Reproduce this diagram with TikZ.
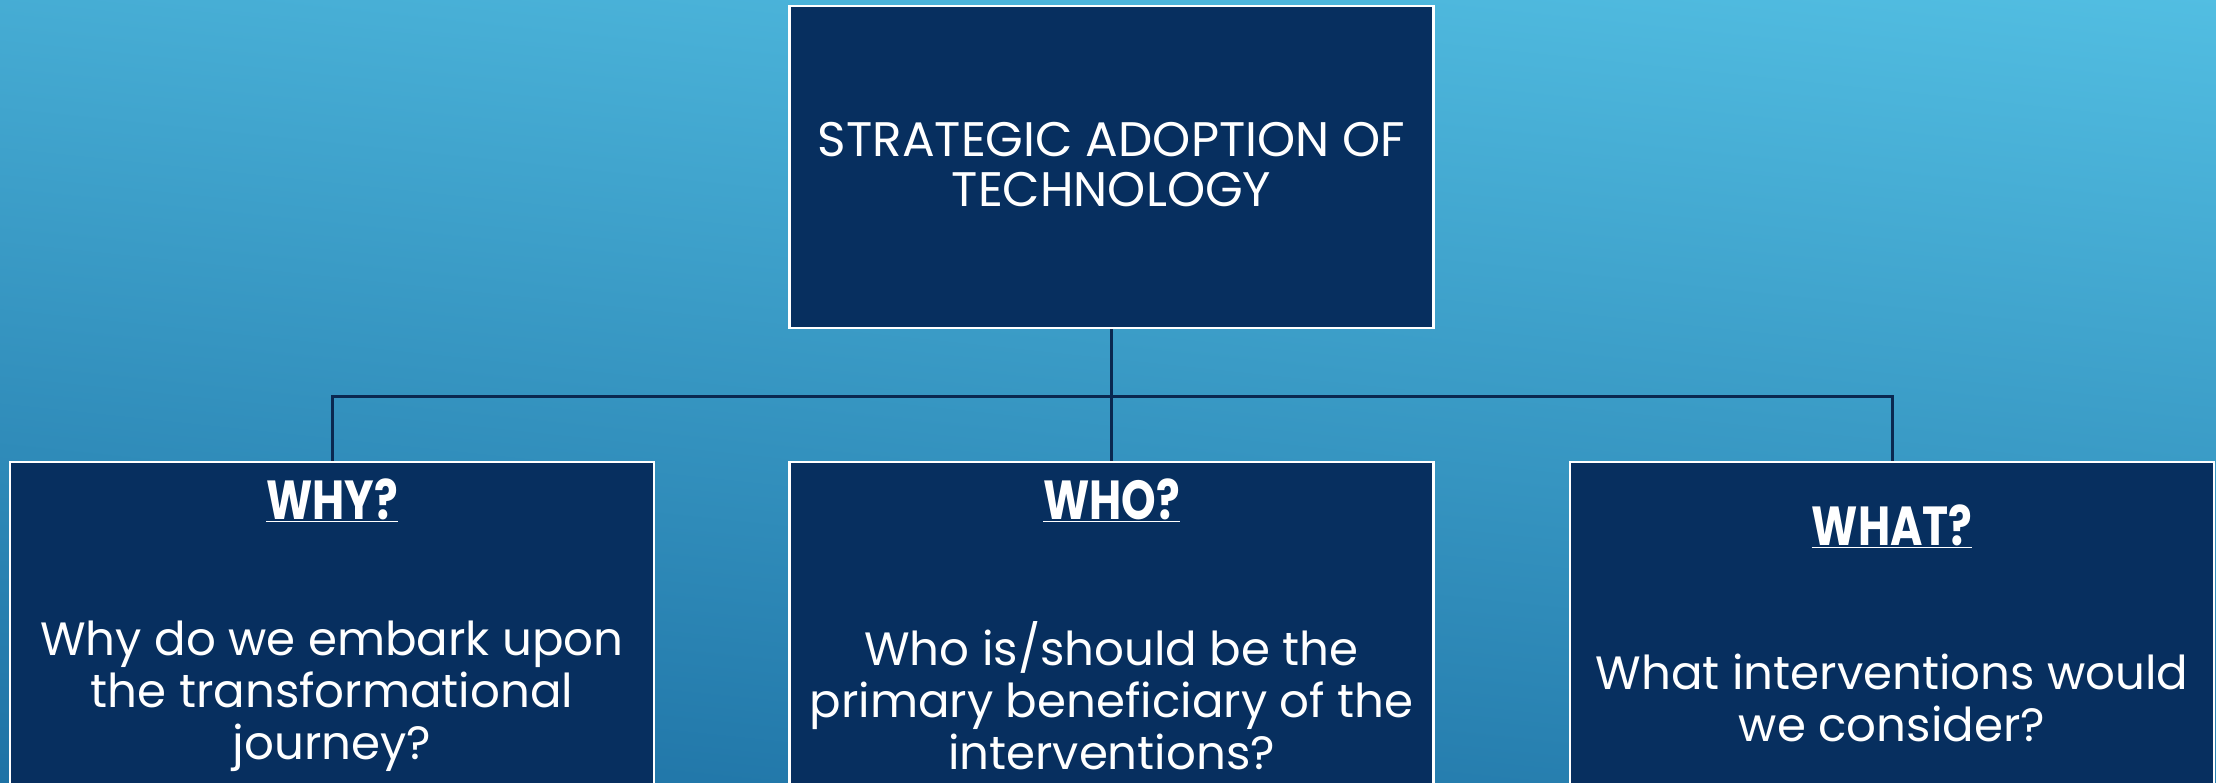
\documentclass[tikz,border=0pt]{standalone}
\usepackage{fontspec}
\setmainfont{Poppins}
\newfontfamily\headfont[FakeStretch=0.8]{Poppins}
\usetikzlibrary{calc}
\definecolor{navy}{RGB}{7,47,95}
\definecolor{linecol}{RGB}{10,40,80}
\definecolor{bgtop}{RGB}{82,190,226}
\definecolor{bgmid}{RGB}{58,156,200}
\definecolor{bgbot}{RGB}{30,114,165}
\tikzset{
  box/.style={draw=white, line width=2.5pt, fill=navy, minimum width=644pt, minimum height=322pt, inner sep=0pt},
  conn/.style={draw=linecol, line width=3pt},
  txt/.style={text=white, align=center, inner sep=0pt},
  toptxt/.style={txt, font=\fontsize{48.5}{50}\selectfont},
  headtxt/.style={txt, font=\headfont\bfseries\fontsize{55}{60}\selectfont},
  bodytxt/.style={txt, font=\fontsize{46.7}{52}\selectfont},
}
\begin{document}
\begin{tikzpicture}[x=1pt,y=-1pt]
\useasboundingbox (0,0) rectangle (2216,783);
\clip (0,0) rectangle (2216,783);
\shade[top color=bgtop, middle color=bgmid, bottom color=bgbot, shading angle=-6] (-50,-50) rectangle (2266,833);
\coordinate (bus) at (0,396);
\node[box] (top) at (1111.5,167) {};
\node[box] (why) at (332,623) {};
\node[box] (who) at (1111.5,623) {};
\node[box] (what) at (1892,623) {};
\draw[conn] (top.south) -- (top.south |- bus);
\draw[conn] (why.north) -- (why.north |- bus) -| (what.north);
\draw[conn] (who.north) -- (who.north |- bus);
\node[toptxt] (toptext) at (1111.5,165) {STRATEGIC ADOPTION OF\\TECHNOLOGY};
\node[headtxt] (whyh) at (332,500) {\underline{WHY?}};
\node[bodytxt] (whyb) at (332,696) {Why do we embark upon\\the transformational\\journey?};
\node[headtxt] (whoh) at (1111.5,500) {\underline{WHO?}};
\node[bodytxt] (whob) at (1111.5,696) {Who is/should be the\\primary beneficiary of the\\interventions?};
\node[headtxt] (whath) at (1892,526) {\underline{WHAT?}};
\node[bodytxt] (whatb) at (1892,698) {What interventions would\\we consider?};
\end{tikzpicture}
\end{document}
